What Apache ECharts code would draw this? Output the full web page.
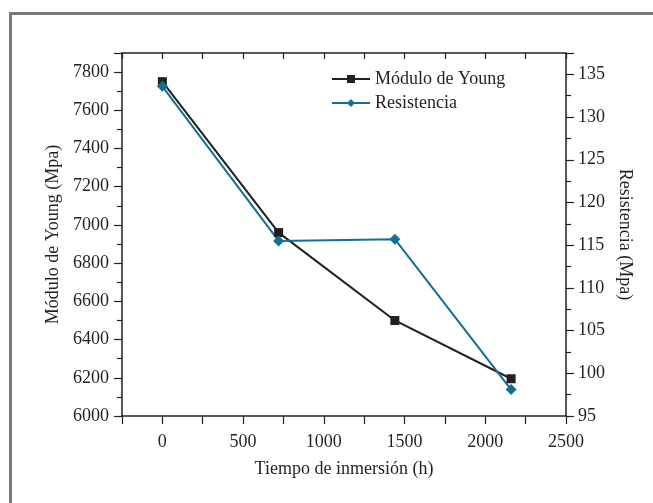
<!DOCTYPE html>
<html>
<head>
<meta charset="utf-8">
<script src="https://cdn.jsdelivr.net/npm/echarts@6/dist/echarts.min.js"></script>
<style>
  html, body { margin: 0; padding: 0; background: #fff; }
  #chart { width: 653px; height: 503px; }
</style>
</head>
<body>
<div id="chart"></div>
<script>
// tiempo de inmersion (h)
var tiempos = [0, 720, 1440, 2160];
// modulo de Young (Mpa)
var modulo = [7750, 6960, 6500, 6195];
// resistencia (Mpa)
var resistencia = [133.6, 115.5, 115.7, 98.1];

var negro = '#231f20';
var azul = '#136f96';
var fuente = 'Liberation Serif';

function pares(xs, ys) {
    var out = [];
    for (let i = 0; i < xs.length; i++) {
        out.push([xs[i], ys[i]]);
    }
    return out;
}

var ejeBase = {
    axisLine: { show: true, onZero: false, lineStyle: { color: negro, width: 1.5 } },
    axisTick: { show: true, length: 8, lineStyle: { color: negro, width: 1.2 } },
    minorTick: { show: true, splitNumber: 2, length: 5, lineStyle: { color: negro, width: 1.2 } },
    splitLine: { show: false },
    minorSplitLine: { show: false }
};

var chart = echarts.init(document.querySelector('#chart'));
chart.setOption({
    animation: false,
    backgroundColor: '#fff',
    textStyle: { fontFamily: fuente },
    grid: { left: 122, right: 87, top: 53, bottom: 87 },
    graphic: [
        { type: 'rect', left: 9, top: 12, shape: { width: 660, height: 3 }, style: { fill: '#7a7a7a' } },
        { type: 'rect', left: 9, top: 12, shape: { width: 3, height: 500 }, style: { fill: '#7a7a7a' } }
    ],
    legend: {
        orient: 'vertical',
        left: 326,
        top: 65,
        itemWidth: 38,
        itemHeight: 10,
        itemGap: 6,
        textStyle: { fontFamily: fuente, fontSize: 18, color: negro },
        data: ['Módulo de Young', 'Resistencia']
    },
    xAxis: [
        Object.assign({}, ejeBase, {
            type: 'value',
            min: -250,
            max: 2500,
            interval: 250,
            minorTick: { show: false },
            name: 'Tiempo de inmersión (h)',
            nameLocation: 'middle',
            nameGap: 44,
            nameTextStyle: { fontFamily: fuente, fontSize: 18, color: negro },
            axisLabel: {
                margin: 17,
                fontFamily: fuente,
                fontSize: 18,
                color: negro,
                formatter: function (v) { return (v >= 0 && v % 500 === 0) ? String(v) : ''; }
            }
        }),
        Object.assign({}, ejeBase, {
            type: 'value',
            position: 'top',
            min: -250,
            max: 2500,
            interval: 250,
            minorTick: { show: false },
            axisTick: { show: true, inside: true, length: 6, lineStyle: { color: negro, width: 1.2 } },
            axisLabel: { show: false }
        })
    ],
    yAxis: [
        Object.assign({}, ejeBase, {
            type: 'value',
            min: 6000,
            max: 7900,
            interval: 200,
            name: 'Módulo de Young (Mpa)',
            nameLocation: 'middle',
            nameGap: 60,
            nameRotate: 90,
            nameTextStyle: { fontFamily: fuente, fontSize: 18, color: negro },
            axisLabel: {
                margin: 13, fontFamily: fuente, fontSize: 18, color: negro, showMaxLabel: false,
                formatter: function (v) { return String(v); }
            }
        }),
        Object.assign({}, ejeBase, {
            type: 'value',
            position: 'right',
            min: 95,
            max: 137.5,
            interval: 5,
            name: 'Resistencia (Mpa)',
            nameLocation: 'middle',
            nameGap: 44,
            nameRotate: -90,
            nameTextStyle: { fontFamily: fuente, fontSize: 18, color: negro },
            axisLabel: {
                margin: 12, fontFamily: fuente, fontSize: 18, color: negro, showMaxLabel: false,
                formatter: function (v) { return String(v); }
            }
        })
    ],
    series: [
        {
            name: 'Módulo de Young',
            type: 'line',
            xAxisIndex: 0,
            yAxisIndex: 0,
            data: pares(tiempos, modulo),
            symbol: 'rect',
            symbolSize: 9,
            color: negro,
            lineStyle: { color: negro, width: 2 },
            itemStyle: { color: negro }
        },
        {
            name: 'Resistencia',
            type: 'line',
            xAxisIndex: 0,
            yAxisIndex: 1,
            data: pares(tiempos, resistencia),
            symbol: 'diamond',
            symbolSize: 11,
            color: azul,
            lineStyle: { color: azul, width: 2 },
            itemStyle: { color: azul }
        }
    ]
});
</script>
</body>
</html>
